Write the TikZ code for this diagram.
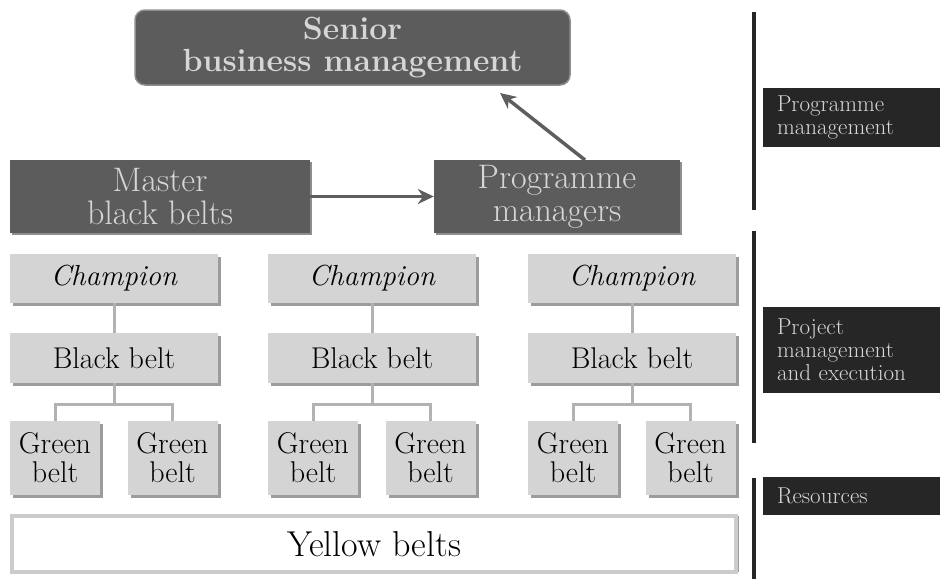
\documentclass[tikz,border=0pt]{standalone}
\usepackage{tikz}
\usepackage{xcolor}
\usetikzlibrary{arrows.meta,shadows}

\definecolor{boxdark}{HTML}{5C5C5C}
\definecolor{textlight}{HTML}{D6D6D6}
\definecolor{shadowmid}{HTML}{8E8E8E}
\definecolor{boxlight}{HTML}{D4D4D4}
\definecolor{shadowlight}{HTML}{9C9C9C}
\definecolor{linkgray}{HTML}{B2B2B2}
\definecolor{arrowgray}{HTML}{5E5E5E}
\definecolor{bargray}{HTML}{262626}
\definecolor{framegray}{HTML}{CCCCCC}

\begin{document}
\begin{tikzpicture}[x=1pt,y=-1pt,
  dark/.style={fill=boxdark,text=textlight,align=center,inner sep=0pt,
    font=\fontsize{34}{33}\selectfont,
    general shadow={fill=shadowmid,shadow xshift=2pt,shadow yshift=-2pt}},
  light/.style={fill=boxlight,align=center,inner sep=0pt,
    font=\fontsize{30}{29}\selectfont,
    general shadow={fill=shadowlight,shadow xshift=3pt,shadow yshift=-3pt}},
  champ/.style={light,minimum width=208pt,minimum height=49pt,font=\fontsize{29}{29}\selectfont\itshape},
  bbelt/.style={light,minimum width=208pt,minimum height=50pt},
  gbelt/.style={light,minimum width=90pt,minimum height=74pt},
  tag/.style={fill=bargray,text=textlight,align=left,inner ysep=0pt,inner xsep=14pt,
    text width=149pt,font=\fontsize{23}{23}\selectfont},
  link/.style={draw=linkgray,line width=3pt},
  arr/.style={draw=arrowgray,line width=3.5pt,-{Stealth[length=16pt,width=15pt]}},
  bar/.style={draw=bargray,line width=4pt}]
\useasboundingbox (0,0) rectangle (940,579);

% programme level
\node[fill=boxdark,draw=shadowmid,line width=1.5pt,rounded corners=10pt,text=textlight,
  align=center,inner sep=0pt,minimum width=435pt,minimum height=75pt,
  font=\fontsize{32}{32}\selectfont\bfseries] (senior) at (352.5,47.5) {Senior\\business management};
\node[dark,minimum width=300pt,minimum height=73pt] (master) at (160,196.5) {Master\\black belts};
\node[dark,minimum width=246pt,minimum height=73pt] (progman) at (557,196.5) {Programme\\managers};
\coordinate (pmtop) at (585,160);
\coordinate (srtip) at (500,93);
\draw[arr] (master) -- (progman);
\draw[arr] (pmtop) -- (srtip);

% project level
\node[champ] (ch1) at (114,278.5) {Champion};
\node[bbelt] (bb1) at (114,358) {Black belt};
\node[gbelt] (gb1a) at (55,458) {Green\\belt};
\node[gbelt] (gb1b) at (172.5,458) {Green\\belt};
\node[champ] (ch2) at (372,278.5) {Champion};
\node[bbelt] (bb2) at (372,358) {Black belt};
\node[gbelt] (gb2a) at (313,458) {Green\\belt};
\node[gbelt] (gb2b) at (430.5,458) {Green\\belt};
\node[champ] (ch3) at (632,278.5) {Champion};
\node[bbelt] (bb3) at (632,358) {Black belt};
\node[gbelt] (gb3a) at (573,458) {Green\\belt};
\node[gbelt] (gb3b) at (690.5,458) {Green\\belt};

\draw[link] (ch1) -- (bb1);
\draw[link] (bb1.south) -- ++(0,22);
\draw[link] (gb1a.north) -- ++(0,-16) -| (gb1b.north);
\draw[link] (ch2) -- (bb2);
\draw[link] (bb2.south) -- ++(0,22);
\draw[link] (gb2a.north) -- ++(0,-16) -| (gb2b.north);
\draw[link] (ch3) -- (bb3);
\draw[link] (bb3.south) -- ++(0,22);
\draw[link] (gb3a.north) -- ++(0,-16) -| (gb3b.north);

% resources
\node[fill=white,draw=framegray,line width=4pt,inner sep=0pt,minimum width=724pt,minimum height=56pt,
  font=\fontsize{36}{36}\selectfont,
  general shadow={fill=shadowlight,shadow xshift=3pt,shadow yshift=0pt}] (yellow) at (374,544)
  {Yellow belts};

% side labels
\draw[bar] (754,12) -- (754,210);
\draw[bar] (754,231) -- (754,443);
\draw[bar] (754,478) -- (754,579);
\node[tag,minimum height=59pt] (lprog) at (851.5,117.5) {Programme\\management};
\node[tag,minimum height=86pt] (lproj) at (851.5,350) {Project\\management\\and execution};
\node[tag,minimum height=38pt] (lres) at (851.5,496) {Resources};
\end{tikzpicture}
\end{document}
